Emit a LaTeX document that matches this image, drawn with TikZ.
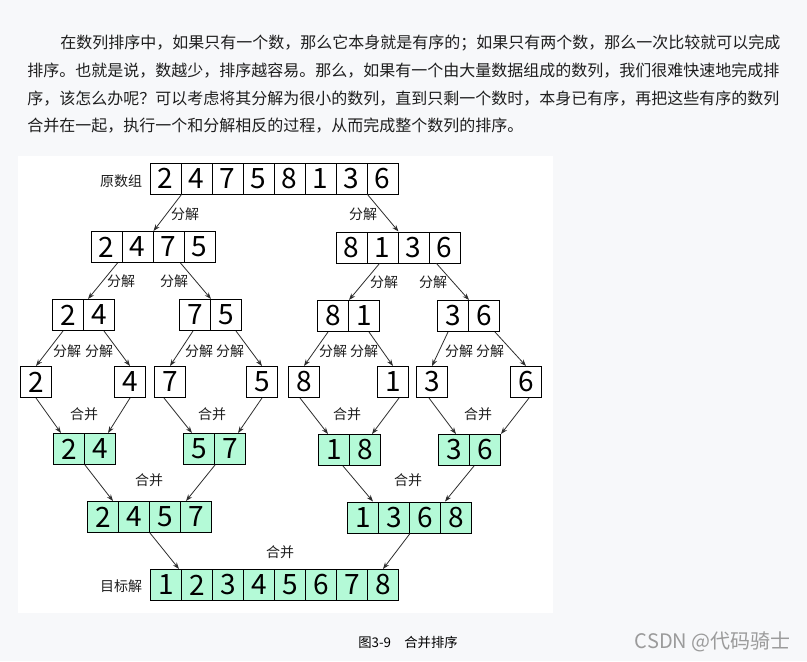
\documentclass[tikz,border=0pt]{standalone}
\usepackage{fontspec}
\setmainfont{Noto Sans CJK SC}
\usepackage{xcolor}
\usepackage{tikz}
\usetikzlibrary{arrows.meta, calc}
\definecolor{pagebg}{RGB}{247,248,250}
\definecolor{mintgreen}{RGB}{180,250,215}
\definecolor{arrowgray}{RGB}{45,45,45}
\definecolor{bodytext}{RGB}{30,30,30}
\definecolor{markgray}{RGB}{155,155,155}

\tikzset{
    cell/.style={
        draw=black,
        line width=0.75pt,
        minimum size=23.25pt,
        inner sep=0pt,
        font=\fontsize{21}{21}\selectfont
    },
    whitecell/.style={cell, fill=white},
    greencell/.style={cell, fill=mintgreen},
    link/.style={
        draw=arrowgray,
        line width=0.6pt,
        -{Stealth[length=5pt,width=3.6pt]}
    },
    tag/.style={
        text=bodytext,
        inner sep=0pt,
        font=\fontsize{10.5}{10.5}\selectfont
    },
    introline/.style={
        anchor=west,
        text=bodytext,
        inner sep=0pt,
        font=\fontsize{12}{12}\selectfont
    }
}

% one row of cells: name, left x, centre y, style, values
\newcommand{\cellrow}[5]{%
    \foreach \cellval [count=\cellno] in {#5}
        \node[#4] (#1\cellno) at ({#2+31*\cellno-15.5},#3) {\cellval};
}

\begin{document}
\begin{tikzpicture}[x=0.75pt,y=-0.75pt]

        % page and picture panel
        \fill[pagebg] (0,0) rectangle (807,661);
        \fill[white] (18,156) rectangle (553,613);
        \useasboundingbox (0,0) rectangle (807,661);

        % text above the figure
        \node[introline] (intro1) at (60,43.3) {在数列排序中，如果只有一个数，那么它本身就是有序的；如果只有两个数，那么一次比较就可以完成};
        \node[introline] (intro2) at (27,71) {排序。也就是说，数越少，排序越容易。那么，如果有一个由大量数据组成的数列，我们很难快速地完成排};
        \node[introline] (intro3) at (27,98.7) {序，该怎么办呢？可以考虑将其分解为很小的数列，直到只剩一个数时，本身已有序，再把这些有序的数列};
        \node[introline] (intro4) at (27,126) {合并在一起，执行一个和分解相反的过程，从而完成整个数列的排序。};

        % split rows
        \cellrow{src}{150}{178.5}{whitecell}{2,4,7,5,8,1,3,6}
        \cellrow{lhalf}{91}{247}{whitecell}{2,4,7,5}
        \cellrow{rhalf}{336}{247.5}{whitecell}{8,1,3,6}
        \cellrow{pa}{52.5}{315}{whitecell}{2,4}
        \cellrow{pb}{179.5}{315}{whitecell}{7,5}
        \cellrow{pc}{317.5}{316}{whitecell}{8,1}
        \cellrow{pd}{437.5}{316}{whitecell}{3,6}

        \node[whitecell] (one1) at (36,382) {2};
        \node[whitecell] (one2) at (130,382) {4};
        \node[whitecell] (one3) at (170,382) {7};
        \node[whitecell] (one4) at (262,382) {5};
        \node[whitecell] (one5) at (304,382) {8};
        \node[whitecell] (one6) at (393,382) {1};
        \node[whitecell] (one7) at (432,382) {3};
        \node[whitecell] (one8) at (526,382) {6};

        % merge rows
        \cellrow{ma}{53.5}{449}{greencell}{2,4}
        \cellrow{mb}{183.5}{449}{greencell}{5,7}
        \cellrow{mc}{318.5}{450}{greencell}{1,8}
        \cellrow{md}{438.5}{450}{greencell}{3,6}
        \cellrow{qa}{87.5}{517}{greencell}{2,4,5,7}
        \cellrow{qb}{347.5}{517.5}{greencell}{1,3,6,8}
        \cellrow{res}{150.5}{585}{greencell}{1,2,3,4,5,6,7,8}

        \node[tag] (srclabel) at (121,181) {原数组};
        \node[tag] (reslabel) at (121,586) {目标解};

        % split arrows
        \draw[link] (src1.south east) -- (lhalf2.north east);
        \draw[link] (src7.south east) -- (rhalf2.north east);
        \draw[link] ($(lhalf1.south east)+(-5,0)$) -- ($(pa1.north east)+(4,0)$);
        \draw[link] ($(lhalf3.south east)+(-4,0)$) -- (pb1.north east);
        \draw[link] ($(rhalf2.south)+(-3,0)$) -- (pc1.north east);
        \draw[link] ($(rhalf4.south)+(-8,0)$) -- (pd1.north east);
        \draw[link] ($(pa1.south)+(-5,0)$) -- (one1.north);
        \draw[link] ($(pa2.south)+(5,0)$) -- (one2.north);
        \draw[link] ($(pb1.south)+(-2,0)$) -- (one3.north);
        \draw[link] ($(pb2.south)+(10,0)$) -- (one4.north);
        \draw[link] ($(pc1.south)+(-5,0)$) -- (one5.north);
        \draw[link] ($(pc2.south)+(5,0)$) -- (one6.north);
        \draw[link] ($(pd1.south)+(-5,0)$) -- (one7.north);
        \draw[link] ($(pd2.south)+(11,0)$) -- (one8.north);

        % merge arrows
        \draw[link] (one1.south) -- ($(ma1.north west)+(8,0)$);
        \draw[link] (one2.south) -- ($(ma2.north east)+(-8,0)$);
        \draw[link] ($(one3.south)+(-6,0)$) -- ($(mb1.north west)+(9,0)$);
        \draw[link] (one4.south) -- ($(mb2.north east)+(-8,0)$);
        \draw[link] ($(one5.south)+(-4,0)$) -- ($(mc1.north west)+(10,0)$);
        \draw[link] ($(one6.south)+(6,0)$) -- ($(mc2.north east)+(-9,0)$);
        \draw[link] ($(one7.south)+(-3,0)$) -- ($(md1.north west)+(18,0)$);
        \draw[link] ($(one8.south)+(3,0)$) -- (md2.north east);
        \draw[link] (ma1.south east) -- ($(qa1.north east)+(-6,0)$);
        \draw[link] (mb1.south east) -- ($(qa4.north west)+(6,0)$);
        \draw[link] ($(mc1.south east)+(-7,0)$) -- ($(qb1.north east)+(-6,0)$);
        \draw[link] ($(md1.south east)+(4,0)$) -- ($(qb4.north west)+(5,0)$);
        \draw[link] (qa2.south east) -- ($(res1.north east)+(-3,0)$);
        \draw[link] (qb2.south east) -- (res8.north);

        % arrow labels
        \node[tag] (cut1) at (185,214) {分解};
        \node[tag] (cut2) at (363,214) {分解};
        \node[tag] (cut3) at (121,281) {分解};
        \node[tag] (cut4) at (174,281) {分解};
        \node[tag] (cut5) at (384,282) {分解};
        \node[tag] (cut6) at (433,282) {分解};
        \node[tag] (cut7) at (67,351) {分解};
        \node[tag] (cut8) at (99,351) {分解};
        \node[tag] (cut9) at (199,351) {分解};
        \node[tag] (cut10) at (230,351) {分解};
        \node[tag] (cut11) at (333,351) {分解};
        \node[tag] (cut12) at (364,351) {分解};
        \node[tag] (cut13) at (459,351) {分解};
        \node[tag] (cut14) at (490,351) {分解};
        \node[tag] (join1) at (84,414) {合并};
        \node[tag] (join2) at (212,414) {合并};
        \node[tag] (join3) at (347,414) {合并};
        \node[tag] (join4) at (478,414) {合并};
        \node[tag] (join5) at (149,480) {合并};
        \node[tag] (join6) at (408,480) {合并};
        \node[tag] (join7) at (280,552) {合并};

        % caption and mark
        \node[
            text=black,
            inner sep=0pt,
            font=\fontsize{10}{10}\selectfont
        ]
        (caption) at (408,642) {图3-9\quad 合并排序};
        \node[
            anchor=east,
            text=markgray,
            inner sep=0pt,
            font=\fontsize{15}{15}\selectfont
        ]
        (mark) at (791,642) {CSDN @代码骑士};

    \end{tikzpicture}
\end{document}
